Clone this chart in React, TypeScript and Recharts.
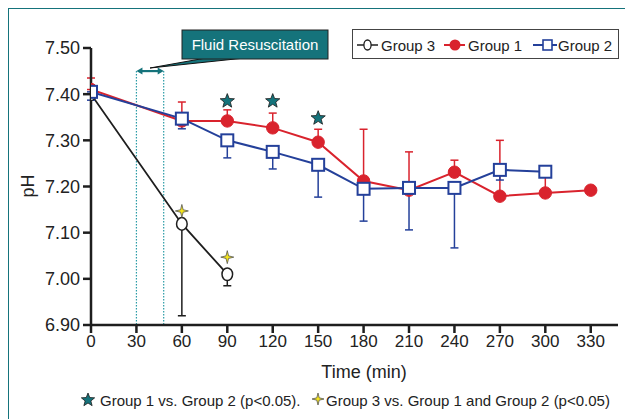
import React from 'react'
import {
  ComposedChart, Line, Scatter, XAxis, YAxis, ErrorBar, ReferenceLine,
} from 'recharts'

// ── Data ──────────────────────────────────────────────────────────────────────
const TIME_TICKS = [0, 30, 60, 90, 120, 150, 180, 210, 240, 270, 300, 330]
const PH_TICKS = [6.9, 7.0, 7.1, 7.2, 7.3, 7.4, 7.5]

const G1_TIME = [0, 60, 90, 120, 150, 180, 210, 240, 270, 300, 330]
const G1_PH = [7.41, 7.342, 7.342, 7.327, 7.296, 7.212, 7.192, 7.231, 7.179, 7.186, 7.192]
const G1_SD_UP = [0.025, 0.041, 0.024, 0.032, 0.028, 0.112, 0.083, 0.026, 0.121, 0.034, 0]

const G2_TIME = [0, 60, 90, 120, 150, 180, 210, 240, 270, 300]
const G2_PH = [7.405, 7.347, 7.3, 7.275, 7.247, 7.195, 7.197, 7.197, 7.236, 7.232]
const G2_SD_DOWN = [0.018, 0.022, 0.038, 0.037, 0.07, 0.07, 0.091, 0.13, 0.022, 0]

const G3_TIME = [0, 60, 90]
const G3_PH = [7.4, 7.119, 7.01]
const G3_SD_DOWN = [0, 0.199, 0.025]

// significance markers
const SIG12_TIME = [90, 120, 150]
const SIG12_PH = [7.385, 7.385, 7.348]
const SIG3_TIME = [60, 90]
const SIG3_PH = [7.147, 7.047]

// fluid resuscitation window (min)
const FLUID_START = 30
const FLUID_END = 48
const FLUID_LEVEL = 7.45

// ── Style ─────────────────────────────────────────────────────────────────────
const RED = '#d9232d'
const BLUE = '#24409a'
const BLACK = '#1e1e1e'
const TEAL = '#15737b'
const TEAL_LINE = '#2b9ba6'
const YELLOW = '#f4e41c'
const FONT = '"Liberation Sans", Arial, Helvetica, sans-serif'

const g1Data = G1_TIME.map((t, i) => ({ t, v: G1_PH[i], err: [0, G1_SD_UP[i]] }))
const g2Data = G2_TIME.map((t, i) => ({ t, v: G2_PH[i], err: [G2_SD_DOWN[i], 0] }))
const g3Data = G3_TIME.map((t, i) => ({ t, v: G3_PH[i], err: [G3_SD_DOWN[i], 0] }))
const sig12Data = SIG12_TIME.map((t, i) => ({ t, v: SIG12_PH[i] }))
const sig3Data = SIG3_TIME.map((t, i) => ({ t, v: SIG3_PH[i] }))

function starPoints(cx: number, cy: number, n: number, ro: number, ri: number) {
  const pts: string[] = []
  for (let k = 0; k < n * 2; k++) {
    const r = k % 2 === 0 ? ro : ri
    const a = -Math.PI / 2 + (k * Math.PI) / n
    pts.push(`${cx + r * Math.cos(a)},${cy + r * Math.sin(a)}`)
  }
  return pts.join(' ')
}

const TealStar = ({ cx, cy }: any) => (
  <polygon points={starPoints(cx, cy, 5, 7.5, 3.2)} fill={TEAL} stroke="#1a1a1a" strokeWidth={0.8} />
)
const YellowStar = ({ cx, cy }: any) => (
  <polygon points={starPoints(cx, cy, 4, 6.5, 1.8)} fill={YELLOW} stroke="#555" strokeWidth={0.8} />
)

const redDot = (p: any) => (
  <circle key={`r${p.index}`} cx={p.cx} cy={p.cy} r={6.2} fill={RED} stroke={RED} strokeWidth={1} />
)
const blueDot = (p: any) => (
  <rect key={`b${p.index}`} x={p.cx - 6} y={p.cy - 6} width={12} height={12}
    fill="#fff" stroke={BLUE} strokeWidth={2} />
)
const blackDot = (p: any) => (
  <ellipse key={`k${p.index}`} cx={p.cx} cy={p.cy} rx={5.3} ry={6.3}
    fill="#fff" stroke={BLACK} strokeWidth={1.5} />
)

const FluidArrow = ({ x1, y1, x2 }: any) => (
  <g>
    <line x1={x1 + 3} y1={y1} x2={x2 - 3} y2={y1} stroke={TEAL} strokeWidth={2.2} />
    <polygon points={`${x1},${y1} ${x1 + 6},${y1 - 3.5} ${x1 + 6},${y1 + 3.5}`} fill={TEAL} />
    <polygon points={`${x2},${y1} ${x2 - 6},${y1 - 3.5} ${x2 - 6},${y1 + 3.5}`} fill={TEAL} />
  </g>
)

// ── Overlay: legend, callout, titles, footnote ───────────────────────────────
function Overlay() {
  return (
    <svg width={625} height={419} style={{ position: 'absolute', left: 0, top: 0, pointerEvents: 'none' }}
      fontFamily={FONT}>
      {/* callout */}
      <polygon points="150,68 203,58.5 240,58.5" fill={TEAL} stroke="#111" strokeWidth={1} />
      <rect x={182} y={30} width={146} height={29} fill={TEAL} stroke="#222" strokeWidth={1} />
      <text x={255} y={50} fill="#fff" fontSize={15} textAnchor="middle">Fluid Resuscitation</text>

      {/* legend */}
      <rect x={352.5} y={29.5} width={266} height={29} fill="#fff" stroke="#444" strokeWidth={1} />
      <line x1={357} y1={45} x2={378} y2={45} stroke={BLACK} strokeWidth={1.5} />
      <ellipse cx={367.5} cy={45} rx={3.6} ry={5} fill="#fff" stroke={BLACK} strokeWidth={1.3} />
      <text x={381} y={50.5} fontSize={15} fill="#222">Group 3</text>
      <line x1={444} y1={45} x2={465} y2={45} stroke={RED} strokeWidth={2} />
      <circle cx={455} cy={45} r={5.5} fill={RED} />
      <text x={468} y={50.5} fontSize={15} fill="#222">Group 1</text>
      <line x1={533} y1={45} x2={557} y2={45} stroke={BLUE} strokeWidth={2} />
      <rect x={543} y={40} width={9} height={10} fill="#fff" stroke={BLUE} strokeWidth={1.6} />
      <text x={558} y={50.5} fontSize={15} fill="#222">Group 2</text>

      {/* axis titles */}
      <text x={364} y={378} fontSize={18} textAnchor="middle" fill="#222">Time (min)</text>
      <text x={34} y={186} fontSize={18} textAnchor="middle" fill="#222"
        transform="rotate(-90 34 186)">pH</text>

      {/* footnote */}
      <polygon points={starPoints(88, 400, 5, 7, 3)} fill={TEAL} stroke="#1a1a1a" strokeWidth={0.8} />
      <text x={100} y={406} fontSize={15} fill="#222">Group 1 vs. Group 2 (p&lt;0.05).</text>
      <polygon points={starPoints(318, 399, 4, 6, 1.7)} fill={YELLOW} stroke="#555" strokeWidth={0.8} />
      <text x={326} y={406} fontSize={15} fill="#222">Group 3 vs. Group 1 and Group 2 (p&lt;0.05)</text>
    </svg>
  )
}

// ── Component ─────────────────────────────────────────────────────────────────
export default function App() {
  return (
    <div style={{
      position: 'absolute', left: 0, top: 0, width: 625, height: 419,
      overflow: 'hidden', background: '#fff', fontFamily: FONT,
    }}>
      <div style={{
        position: 'absolute', left: 8, top: 8, width: 700, height: 500,
        borderTop: `1.5px solid ${TEAL}`, borderLeft: `1.5px solid ${TEAL}`,
      }} />
      <div style={{ position: 'absolute', left: 0, top: 0 }}>
        <ComposedChart width={625} height={419} margin={{ top: 48, right: 7, bottom: 64, left: 0 }}>
          <XAxis
            type="number" dataKey="t" domain={[0, 348]} ticks={TIME_TICKS}
            allowDataOverflow height={30}
            axisLine={{ stroke: BLACK, strokeWidth: 2.5 }}
            tickLine={{ stroke: BLACK, strokeWidth: 2.5 }}
            tickSize={8} tickMargin={2}
            tick={{ fontSize: 17, fill: '#222', fontFamily: FONT }}
          />
          <YAxis
            type="number" domain={[6.9, 7.5]} ticks={PH_TICKS} width={91}
            allowDataOverflow
            axisLine={{ stroke: BLACK, strokeWidth: 2.5 }}
            tickLine={{ stroke: BLACK, strokeWidth: 2.5 }}
            tickSize={8} tickMargin={3}
            tickFormatter={(v: number) => v.toFixed(2)}
            tick={{ fontSize: 18, fill: '#222', fontFamily: FONT }}
          />

          <ReferenceLine segment={[{ x: FLUID_START, y: FLUID_LEVEL }, { x: FLUID_START, y: 6.9 }]}
            stroke={TEAL_LINE} strokeWidth={1.2} strokeDasharray="1.5 1.5" />
          <ReferenceLine segment={[{ x: FLUID_END, y: FLUID_LEVEL }, { x: FLUID_END, y: 6.9 }]}
            stroke={TEAL_LINE} strokeWidth={1.2} strokeDasharray="1.5 1.5" />
          <ReferenceLine segment={[{ x: FLUID_START, y: FLUID_LEVEL }, { x: FLUID_END, y: FLUID_LEVEL }]}
            shape={FluidArrow} />

          <Line data={g1Data} dataKey="v" type="linear" stroke={RED} strokeWidth={2}
            dot={redDot} activeDot={false} isAnimationActive={false}>
            <ErrorBar dataKey="err" direction="y" width={4} stroke={RED} strokeWidth={1.5} />
          </Line>
          <Line data={g3Data} dataKey="v" type="linear" stroke={BLACK} strokeWidth={1.8}
            dot={blackDot} activeDot={false} isAnimationActive={false}>
            <ErrorBar dataKey="err" direction="y" width={4} stroke={BLACK} strokeWidth={1.5} />
          </Line>
          <Line data={g2Data} dataKey="v" type="linear" stroke={BLUE} strokeWidth={2}
            dot={blueDot} activeDot={false} isAnimationActive={false}>
            <ErrorBar dataKey="err" direction="y" width={4} stroke={BLUE} strokeWidth={1.5} />
          </Line>

          <Scatter data={sig12Data} dataKey="v" shape={TealStar} isAnimationActive={false} />
          <Scatter data={sig3Data} dataKey="v" shape={YellowStar} isAnimationActive={false} />
        </ComposedChart>
      </div>
      <Overlay />
    </div>
  )
}
